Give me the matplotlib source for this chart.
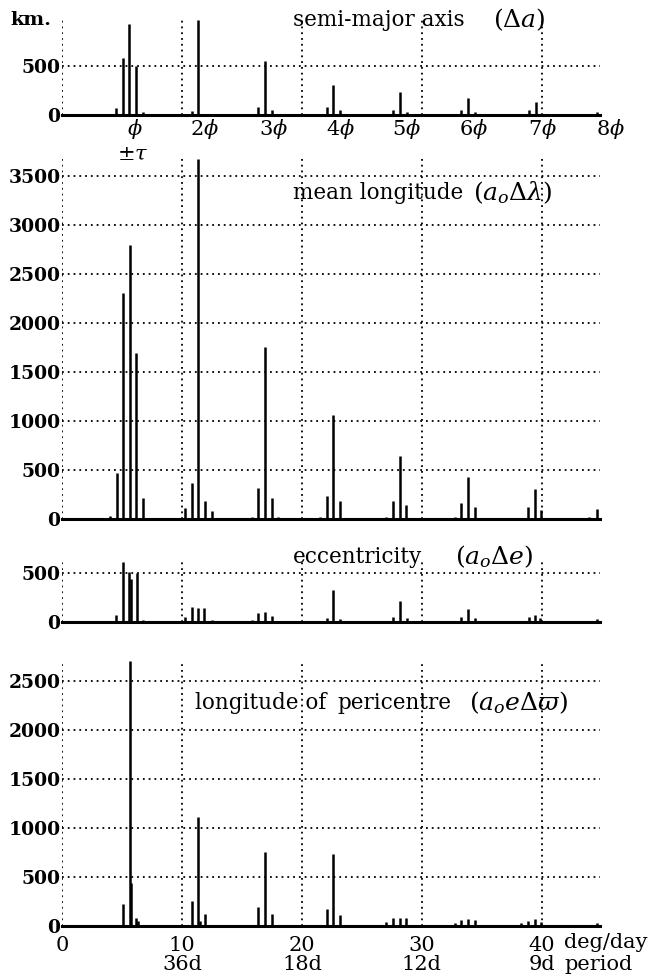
import matplotlib
matplotlib.use('Agg')
import matplotlib.pyplot as plt

# 字体设置
plt.rcParams['font.family'] = ['DejaVu Serif']
plt.rcParams['mathtext.fontset'] = 'dejavuserif'

# 数据 (deg/day, km)
sma_x = [4.5, 5.06, 5.61, 6.2, 6.78, 10.25, 10.8, 11.33, 12.47, 15.8, 16.36, 16.94, 17.47, 17.97,
         22.06, 22.6, 23.2, 27.6, 28.17, 28.8, 33.3, 33.86, 34.4, 38.9, 39.5, 40.06, 44.6]
sma_h = [68, 578, 929, 500, 34, 10, 40, 969, 15, 5, 78, 554, 51, 10,
         78, 305, 51, 51, 231, 34, 51, 170, 34, 51, 136, 15, 34]

ml_x = [3.6, 4.0, 4.56, 5.06, 5.64, 6.17, 6.72, 7.3, 9.6, 10.25, 10.8, 11.36, 11.92, 12.47, 13.0,
        15.3, 15.8, 16.36, 16.92, 17.47, 18.0, 21.0, 21.5, 22.06, 22.6, 23.17, 23.7,
        26.5, 27.05, 27.6, 28.17, 28.7, 29.3, 32.2, 32.75, 33.3, 33.86, 34.4, 35.0,
        38.3, 38.86, 39.4, 39.95, 40.5, 43.9, 44.56]
ml_h = [10, 30, 470, 2300, 2790, 1690, 210, 15, 10, 110, 370, 3670, 185, 85, 10,
        15, 25, 320, 1750, 210, 20, 10, 25, 235, 1060, 185, 15,
        10, 20, 185, 640, 140, 10, 10, 20, 160, 430, 125, 10,
        10, 125, 310, 90, 15, 20, 100]

ecc_x = [4.0, 4.5, 5.06, 5.61, 5.75, 6.22, 6.78, 7.3, 9.7, 10.25, 10.8, 11.33, 11.86, 12.47,
         15.8, 16.36, 16.94, 17.47, 18.0, 21.5, 22.06, 22.6, 23.17, 27.05, 27.6, 28.17, 28.72, 29.3,
         32.75, 33.3, 33.86, 34.4, 38.3, 38.9, 39.4, 39.86, 40.4, 44.56]
ecc_h = [10, 69, 610, 510, 440, 500, 17, 8, 8, 45, 155, 145, 145, 17,
         17, 86, 103, 59, 10, 10, 34, 328, 28, 10, 45, 207, 34, 8,
         10, 52, 131, 34, 10, 45, 69, 34, 10, 24]

per_x = [4.0, 4.56, 5.06, 5.64, 5.75, 6.17, 6.3, 9.7, 10.25, 10.8, 11.36, 11.5, 11.92, 12.47,
         15.8, 16.36, 16.92, 17.47, 21.5, 22.06, 22.6, 23.17, 26.5, 27.05, 27.6, 28.17, 28.7,
         32.2, 32.75, 33.3, 33.86, 34.4, 37.8, 38.3, 38.86, 39.4, 39.95, 40.5, 44.56]
per_h = [10, 15, 224, 2700, 440, 85, 50, 10, 15, 257, 1111, 50, 122, 10,
         10, 196, 755, 122, 10, 169, 738, 108, 15, 44, 78, 85, 78,
         10, 27, 61, 68, 61, 10, 27, 54, 68, 44, 10, 27]

phi_labels = [r'$\phi$', r'$2\phi$', r'$3\phi$', r'$4\phi$', r'$5\phi$', r'$6\phi$', r'$7\phi$', r'$8\phi$']
phi_label_x = [6.05, 11.9, 17.6, 23.2, 28.7, 34.3, 40.1, 45.7]
bottom_ticks = [0, 10, 20, 30, 40]
bottom_labels = ['0', '10\n36d', '20\n18d', '30\n12d', '40\n9d']

W, H = 665, 977
fig = plt.figure(figsize=(W / 100, H / 100), dpi=100)


def make_axes(top, bottom, ymax, yticks, x, h):
    ax = fig.add_axes([62 / W, 1 - bottom / H, 538 / W, (bottom - top) / H])
    ax.patch.set_visible(False)
    ax.vlines(x, 0, h, color='black', lw=1.8, zorder=3, clip_on=False)
    ax.set_xlim(0, 44.85)
    ax.set_ylim(0, ymax)
    for s in ['top', 'right', 'left']:
        ax.spines[s].set_visible(False)
    ax.spines['bottom'].set_linewidth(2.2)
    ax.spines['bottom'].set_zorder(4)
    ax.set_xticks(bottom_ticks)
    ax.set_yticks(yticks)
    ax.grid(True, color='black', linestyle=(0, (1, 2.2)), linewidth=1.3)
    ax.set_axisbelow(True)
    ax.tick_params(length=0, labelsize=13.5, pad=1)
    ax.tick_params(axis='x', labelbottom=False)
    for lab in ax.get_yticklabels():
        lab.set_fontweight('bold')
    return ax


# 半长轴
ax1 = make_axes(20, 115, 970, [0, 500], sma_x, sma_h)
for xl, t in zip(phi_label_x, phi_labels):
    ax1.text(xl, -0.15, t, transform=ax1.get_xaxis_transform(), ha='center', va='center',
             fontsize=15, clip_on=False)
ax1.text(5.85, -0.41, r'$\pm\tau$', transform=ax1.get_xaxis_transform(), ha='center', va='center',
         fontsize=15, clip_on=False, zorder=10)
fig.text(10 / W, 1 - 20 / H, 'km.', fontsize=14, fontweight='bold', ha='left', va='center')

# 平经度
ax2 = make_axes(158, 519, 3680, list(range(0, 3501, 500)), ml_x, ml_h)

# 偏心率
ax3 = make_axes(562, 621.7, 610, [0, 500], ecc_x, ecc_h)

# 近心点经度
ax4 = make_axes(661, 926, 2700, list(range(0, 2501, 500)), per_x, per_h)
ax4.tick_params(axis='x', labelbottom=True, labelsize=15, pad=7)
ax4.set_xticklabels(bottom_labels, linespacing=1.0, va='top')

# 标题文字
fig.text(293 / W, 1 - 20 / H, 'semi-major axis', fontsize=15.5, va='center')
fig.text(493 / W, 1 - 20 / H, r'$(\Delta a)$', fontsize=18, va='center')
fig.text(293 / W, 1 - 193 / H, 'mean longitude', fontsize=15.5, va='center')
fig.text(473 / W, 1 - 193 / H, r'$(a_o\Delta\lambda)$', fontsize=18, va='center')
fig.text(293 / W, 1 - 557 / H, 'eccentricity', fontsize=15.5, va='center')
fig.text(455 / W, 1 - 557 / H, r'$(a_o\Delta e)$', fontsize=18, va='center')
fig.text(195 / W, 1 - 703 / H, 'longitude of', fontsize=15.5, va='center')
fig.text(337 / W, 1 - 703 / H, 'pericentre', fontsize=15.5, va='center')
fig.text(469 / W, 1 - 703 / H, r'$(a_o e\Delta\varpi)$', fontsize=18, va='center')

fig.text(564 / W, 1 - 943 / H, 'deg/day', fontsize=15, ha='left', va='center')
fig.text(564 / W, 1 - 964 / H, 'period', fontsize=15, ha='left', va='center')

fig.savefig('out.png', dpi=100)
